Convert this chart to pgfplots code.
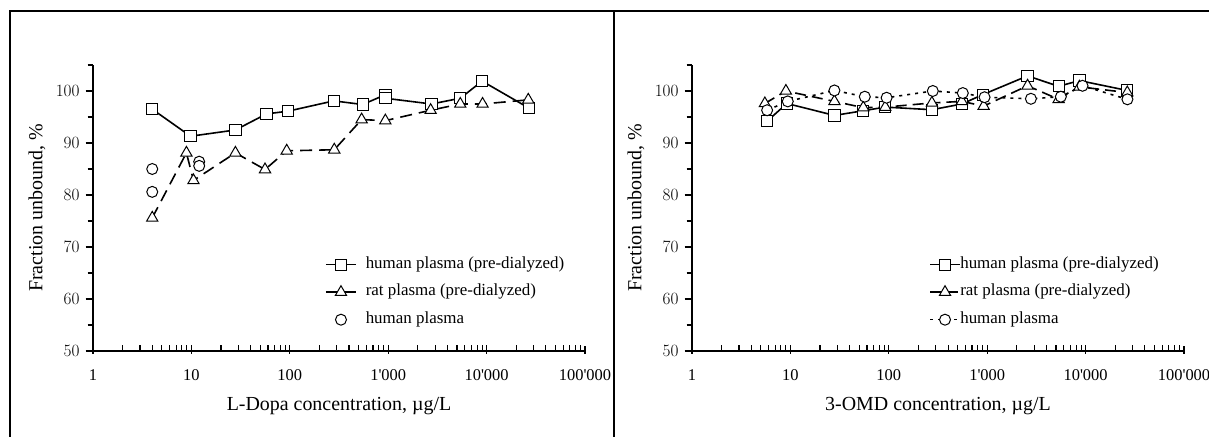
\documentclass[border=0pt]{standalone}
\usepackage{fontspec}
\setmainfont{Liberation Serif}[Ligatures=TeXOff]
\usepackage{pgfplots}
\pgfplotsset{compat=1.18}
\pgfplotsset{
  sq/.style={black, line width=1.6bp, mark=square*, mark size=5.6bp, mark options={solid, fill=white, line width=1bp}},
  tr/.style={black, line width=1.6bp, mark=triangle*, mark size=6.5bp, mark options={solid, fill=white, line width=1bp}},
  ci/.style={black, line width=1.6bp, mark=*, mark size=5.5bp, mark options={solid, fill=white, line width=1bp}},
  legend image code/.code={\draw[mark repeat=2,mark phase=2,#1] plot coordinates {(0bp,0bp) (15bp,0bp) (30bp,0bp)};},
}
\begin{document}
\begin{tikzpicture}[x=1bp,y=1bp]
\useasboundingbox (0,0) rectangle (1209,437);
\draw[line width=2bp] (10,0) -- (10,426) -- (1209,426);
\draw[line width=2bp] (614,0) -- (614,426);

\begin{axis}[at={(93bp,86bp)}, anchor=south west,
  xmode=log, scale only axis, width=492bp, height=286bp,
  xmin=1, xmax=100000, ymin=50, ymax=105,
  axis x line=bottom, axis y line=left,
  axis line style={line width=1.4bp,-},
  xtick={1,10,100,1000,10000,100000},
  xticklabels={1,10,100,1'000,10'000,100'000},
  ytick={50,60,70,80,90,100},
  minor ytick={55,65,75,85,95,105},
  tick align=inside,
  major tick length=8bp, minor tick length=5.5bp,
  every tick/.style={black, line width=1.1bp},
  every major x tick/.append style={yshift=-3bp},
  every major y tick/.append style={xshift=-7.5bp},
  every minor y tick/.append style={xshift=-5.5bp},
  tick label style={font=\fontsize{16.5}{20}\selectfont},
  xticklabel style={yshift=-15.5bp},
  yticklabel style={xshift=-10bp},
  label style={font=\fontsize{20}{24}\selectfont},
  xlabel style={at={(axis description cs:0.5,-0.192)}, anchor=center},
  ylabel style={at={(axis description cs:-0.114,0.5)}, anchor=center},
  ylabel={Fraction unbound, \%},
  xlabel={L-Dopa concentration, µg/L},
  clip=false,
  legend cell align=left,
  legend style={draw=none, fill=none, inner sep=0pt, anchor=north west,
    font=\fontsize{17}{20}\selectfont, row sep=2bp, column sep=7bp,
    nodes={text height=11.5bp, text depth=4bp, inner ysep=5bp},
    at={(rel axis cs:0.4715,0.347)}}]
\addplot[sq] coordinates {(4,96.5) (9.8,91.3) (28,92.5) (58,95.6) (95,96.1) (280,98.1) (550,97.4) (940,99.3) (940,98.6) (2750,97.5) (5400,98.6) (9000,101.9) (27000,96.7)};
\addlegendentry{human plasma (pre-dialyzed)}
\addplot[tr, dash pattern=on 12bp off 7bp] coordinates {(4,75.6) (8.9,88.1) (10.5,82.8) (28,88.1) (56,84.9) (93,88.5) (283,88.7) (537,94.5) (935,94.3) (2700,96.3) (5400,97.5) (9100,97.5) (26500,98.3)};
\addlegendentry{rat plasma (pre-dialyzed)}
\addplot[ci, only marks] coordinates {(4,85.0) (4,80.6) (12,86.4) (12,85.6)};
\addlegendentry{human plasma}
\end{axis}

\begin{axis}[at={(692bp,86bp)}, anchor=south west,
  xmode=log, scale only axis, width=492bp, height=286bp,
  xmin=1, xmax=100000, ymin=50, ymax=105,
  axis x line=bottom, axis y line=left,
  axis line style={line width=1.4bp,-},
  xtick={1,10,100,1000,10000,100000},
  xticklabels={1,10,100,1'000,10'000,100'000},
  ytick={50,60,70,80,90,100},
  minor ytick={55,65,75,85,95,105},
  tick align=inside,
  major tick length=8bp, minor tick length=5.5bp,
  every tick/.style={black, line width=1.1bp},
  every major x tick/.append style={yshift=-3bp},
  every major y tick/.append style={xshift=-7.5bp},
  every minor y tick/.append style={xshift=-5.5bp},
  tick label style={font=\fontsize{16.5}{20}\selectfont},
  xticklabel style={yshift=-15.5bp},
  yticklabel style={xshift=-10bp},
  label style={font=\fontsize{20}{24}\selectfont},
  xlabel style={at={(axis description cs:0.5,-0.192)}, anchor=center},
  ylabel style={at={(axis description cs:-0.114,0.5)}, anchor=center},
  ylabel={Fraction unbound, \%},
  xlabel={3-OMD concentration, µg/L},
  clip=false,
  legend cell align=left,
  legend style={draw=none, fill=none, inner sep=0pt, anchor=north west,
    font=\fontsize{17}{20}\selectfont, row sep=2bp, column sep=-2.5bp,
    nodes={text height=11.5bp, text depth=4bp, inner ysep=5bp},
    at={(rel axis cs:0.4817,0.347)}}]
\addplot[sq] coordinates {(5.8,94.2) (9.2,97.6) (28,95.3) (55,96.2) (92,96.9) (274,96.4) (553,97.5) (900,99.3) (2570,102.9) (5320,100.9) (8650,102.0) (26500,100.1)};
\addlegendentry{human plasma (pre-dialyzed)}
\addplot[tr, dash pattern=on 11bp off 6bp] coordinates {(5.5,97.6) (9,100.0) (28,98.0) (55,96.8) (92,96.9) (274,97.7) (553,98.0) (920,97.1) (2570,101.0) (5320,98.4) (8650,100.8) (26500,99.7)};
\addlegendentry{rat plasma (pre-dialyzed)}
\addplot[ci, dash pattern=on 3bp off 5bp] coordinates {(5.8,96.3) (9.4,98.0) (28,100.1) (57,98.9) (95,98.7) (280,100.0) (565,99.6) (940,98.8) (2780,98.5) (5600,98.9) (9300,101.0) (26600,98.4)};
\addlegendentry{human plasma}
\end{axis}
\end{tikzpicture}
\end{document}
